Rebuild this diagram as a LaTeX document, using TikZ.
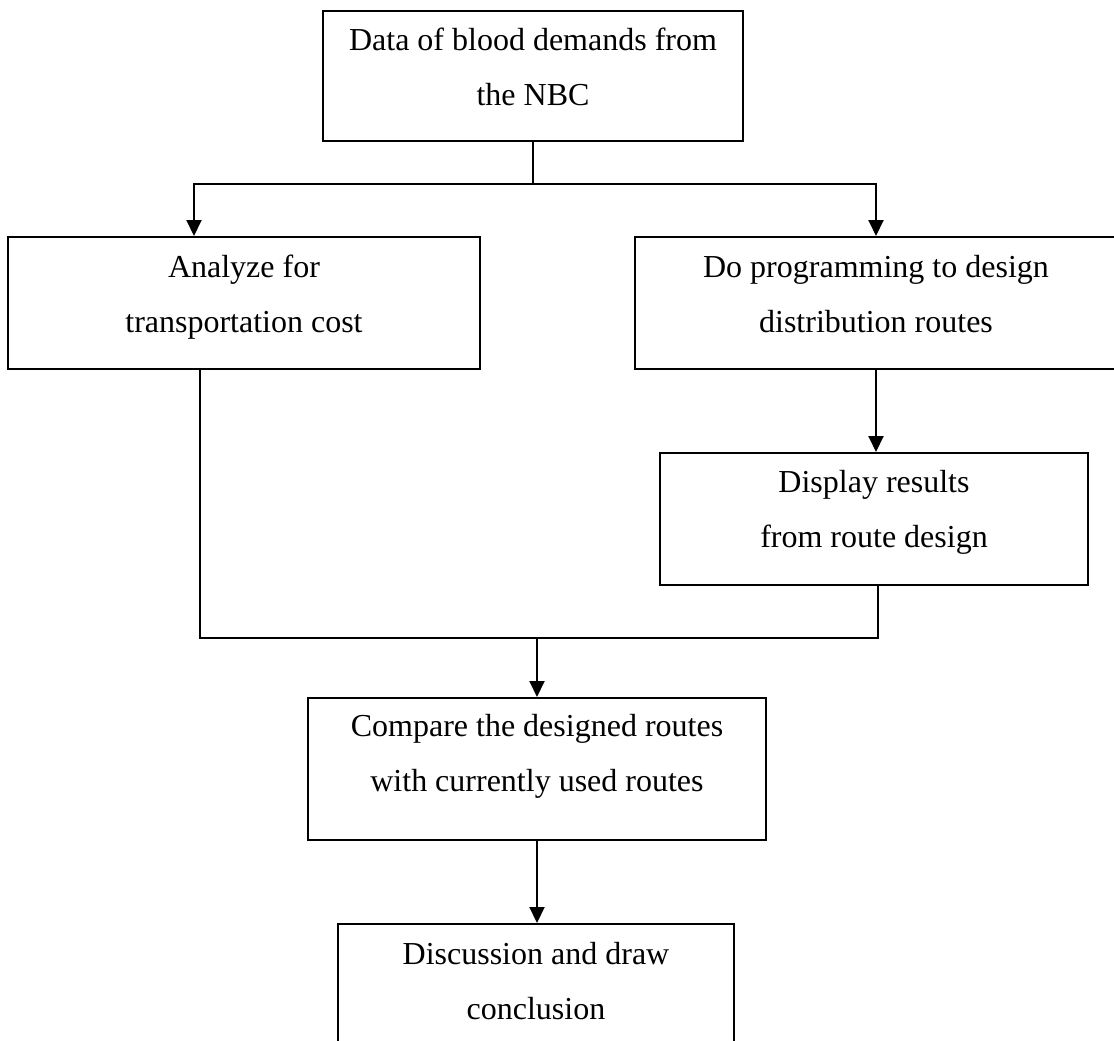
\documentclass[tikz,border=0pt]{standalone}
\usepackage{fontspec}
\setmainfont{Liberation Serif}
\usetikzlibrary{arrows.meta,calc}

\tikzset{
  stepbox/.style={draw, line width=2pt, rectangle, inner sep=0pt},
  % base anchor of a two-line node sits on the baseline of its last line
  words/.style={anchor=base, align=center, inner sep=0pt,
    font=\fontsize{32}{55}\selectfont},
  flow/.style={line width=2pt},
  flowarrow/.style={line width=2pt, -{Triangle[length=16pt,width=15pt]}}
}

\begin{document}
\begin{tikzpicture}[x=1pt,y=-1pt]
\useasboundingbox (0,0) rectangle (1114,1041);

% boxes
\node[stepbox, minimum width=420pt, minimum height=130pt] (b1) at (533,76) {};
\node[stepbox, minimum width=472pt, minimum height=132pt] (b2) at (244,303) {};
\node[stepbox, minimum width=482pt, minimum height=132pt] (b3) at (876,303) {};
\node[stepbox, minimum width=428pt, minimum height=132pt] (b4) at (874,519) {};
\node[stepbox, minimum width=458pt, minimum height=142pt] (b5) at (537,769) {};
\node[stepbox, minimum width=396pt, minimum height=130pt] (b6) at (536,989) {};

% box texts: first baseline about 40 below the top edge, second 55 lower
\node[words] (t1) at ($(b1.north)+(0,96)$) {Data of blood demands from\\the NBC};
\node[words] (t2) at ($(b2.north)+(0,96)$) {Analyze for\\transportation cost};
\node[words] (t3) at ($(b3.north)+(0,96)$) {Do programming to design\\distribution routes};
\node[words] (t4) at ($(b4.north)+(0,95)$) {Display results\\from route design};
\node[words] (t5) at ($(b5.north)+(0,94)$) {Compare the designed routes\\with currently used routes};
\node[words] (t6) at ($(b6.north)+(0,96)$) {Discussion and draw\\conclusion};

% split below the first box
\coordinate (split) at (533,184);
\draw[flow] (b1.south) -- (split);
\draw[flowarrow] (split) -| ($(b2.north west)+(187,0)$);
\draw[flowarrow] (split) -| (b3.north);
\draw[flowarrow] (b3.south) -- (b3.south |- b4.north);

% merge into the comparison box
\coordinate (join) at (537,638);
\draw[flow] ($(b2.south west)+(193,0)$) |- (join) -| ($(b4.south)+(4,0)$);
\draw[flowarrow] (join) -- (b5.north);
\draw[flowarrow] (b5.south) -- (b5.south |- b6.north);
\end{tikzpicture}
\end{document}
